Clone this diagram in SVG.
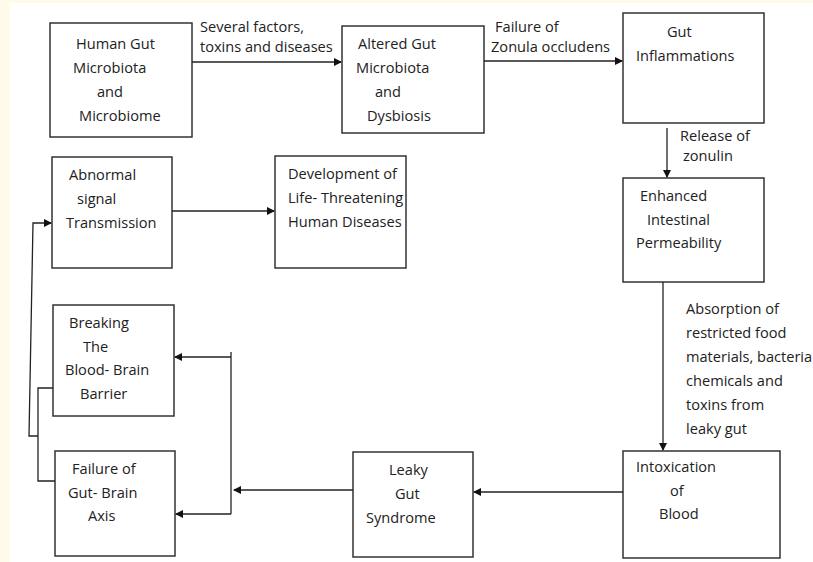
<svg xmlns="http://www.w3.org/2000/svg" width="813" height="562" viewBox="0 0 813 562">
<defs>
<style>
.box{fill:#fff;stroke:#333;stroke-width:1.5}
.ln{fill:none;stroke:#222;stroke-width:1.3}
text{font-family:"Open Sans","Noto Sans",sans-serif;font-size:14.6px;fill:#222}
</style>
<marker id="ah" markerWidth="8" markerHeight="8" refX="7" refY="4" orient="auto" markerUnits="userSpaceOnUse">
<path d="M0,0 L8,4 L0,8 Z" fill="#111"/>
</marker>
</defs>
<rect x="0" y="0" width="813" height="562" fill="#fffbea"/>
<rect x="10" y="3" width="803" height="559" fill="#fff"/>

<g id="n1"><rect class="box" x="50" y="23" width="142" height="114"/>
<text x="76" y="49">Human Gut</text><text x="73" y="73">Microbiota</text><text x="97" y="97">and</text><text x="79" y="121">Microbiome</text></g>

<g id="n2"><rect class="box" x="342" y="26" width="142" height="107"/>
<text x="358" y="49">Altered Gut</text><text x="356" y="73">Microbiota</text><text x="375" y="97">and</text><text x="367" y="121">Dysbiosis</text></g>

<g id="n3"><rect class="box" x="623" y="13" width="141" height="110"/>
<text x="667" y="37">Gut</text><text x="636" y="61">Inflammations</text></g>

<g id="n4"><rect class="box" x="623" y="178" width="141" height="104"/>
<text x="640" y="201">Enhanced</text><text x="647" y="225">Intestinal</text><text x="636" y="248">Permeability</text></g>

<g id="n5"><rect class="box" x="623" y="451" width="157" height="107"/>
<text x="636" y="472">Intoxication</text><text x="670" y="496">of</text><text x="659" y="519">Blood</text></g>

<g id="n6"><rect class="box" x="353" y="452" width="120" height="105"/>
<text x="389" y="475">Leaky</text><text x="395" y="499">Gut</text><text x="366" y="523">Syndrome</text></g>

<g id="n7"><rect class="box" x="53" y="305" width="121" height="111"/>
<text x="69" y="328">Breaking</text><text x="83" y="352">The</text><text x="65" y="375">Blood- Brain</text><text x="80" y="399">Barrier</text></g>

<g id="n8"><rect class="box" x="55" y="451" width="120" height="105"/>
<text x="72" y="474">Failure of</text><text x="68" y="498">Gut- Brain</text><text x="88" y="521">Axis</text></g>

<g id="n9"><rect class="box" x="52" y="157" width="120" height="111"/>
<text x="69" y="180">Abnormal</text><text x="77" y="204">signal</text><text x="66" y="228">Transmission</text></g>

<g id="n10"><rect class="box" x="275" y="156" width="131" height="112"/>
<text x="288" y="179">Development of</text><text x="288" y="203">Life- Threatening</text><text x="288" y="227">Human Diseases</text></g>

<g id="connectors">
<path class="ln" d="M192,62 H341" marker-end="url(#ah)"/>
<text x="200" y="32">Several factors,</text><text x="200" y="52">toxins and diseases</text>
<path class="ln" d="M484,61 H622" marker-end="url(#ah)"/>
<text x="495" y="32">Failure of</text><text x="491" y="52">Zonula occludens</text>
<path class="ln" d="M667,128 V177" marker-end="url(#ah)"/>
<text x="680" y="141">Release of</text><text x="683" y="161">zonulin</text>
<path class="ln" d="M663,282 V450" marker-end="url(#ah)"/>
<text x="686" y="314">Absorption of</text><text x="686" y="338">restricted food</text><text x="686" y="362">materials, bacteria</text><text x="686" y="386">chemicals and</text><text x="686" y="410">toxins from</text><text x="686" y="434">leaky gut</text>
<path class="ln" d="M623,492 H474" marker-end="url(#ah)"/>
<path class="ln" d="M353,490 H234" marker-end="url(#ah)"/>
<path class="ln" d="M231,352 V514"/>
<path class="ln" d="M231,357 H175" marker-end="url(#ah)"/>
<path class="ln" d="M231,514 H176" marker-end="url(#ah)"/>
<path class="ln" d="M53,388 H38 V481 H55"/>
<path class="ln" d="M38,436 H29 L33,223 H51" marker-end="url(#ah)"/>
<path class="ln" d="M172,211 H274" marker-end="url(#ah)"/>
</g>
</svg>
